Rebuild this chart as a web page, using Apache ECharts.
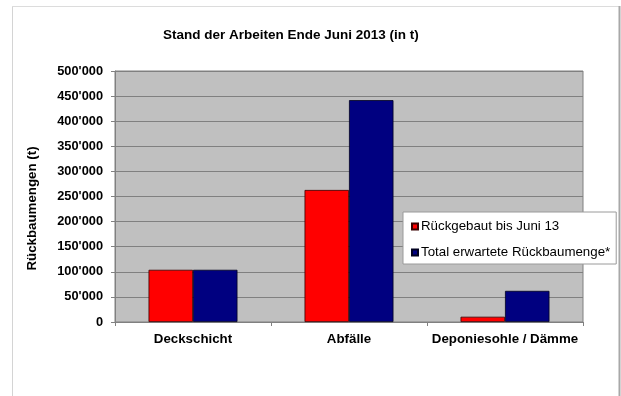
<!DOCTYPE html>
<html>
<head>
<meta charset="utf-8">
<script src="https://cdn.jsdelivr.net/npm/echarts@6/dist/echarts.min.js"></script>
<style>html,body{margin:0;padding:0;background:#fff;}#c{width:621px;height:396px;}</style>
</head>
<body>
<div id="c"></div>
<script>
const categories = ['Deckschicht', 'Abfälle', 'Deponiesohle / Dämme'];
const seriesNames = ['Rückgebaut bis Juni 13', 'Total erwartete Rückbaumenge*'];
const rueckgebaut = [104000, 263000, 10500];
const totalErwartet = [104000, 442000, 62000];
const yTicks = [0, 50000, 100000, 150000, 200000, 250000, 300000, 350000, 400000, 450000, 500000];

function fmt(v) {
  return String(v).replace(/\B(?=(\d{3})+(?!\d))/g, "'");
}

const chart = echarts.init(document.getElementById('c'));
const FONT = '"Liberation Sans", Arial, sans-serif';
chart.setOption({
  animation: false,
  textStyle: { fontFamily: FONT },
  title: {
    text: 'Stand der Arbeiten Ende Juni 2013 (in t)',
    left: 158, top: 23,
    textStyle: { fontSize: 13.5, fontWeight: 'bold', color: '#000', fontFamily: FONT }
  },
  graphic: [
    { type: 'line', shape: { x1: 12.5, y1: 6, x2: 12.5, y2: 396 }, style: { stroke: '#d4d4d4', lineWidth: 1 } },
    { type: 'line', shape: { x1: 12, y1: 6.5, x2: 620, y2: 6.5 }, style: { stroke: '#dcdcdc', lineWidth: 1 } },
    { type: 'line', shape: { x1: 619.5, y1: 6, x2: 619.5, y2: 396 }, style: { stroke: '#a8a8a8', lineWidth: 2 } }
  ],
  legend: {
    orient: 'vertical',
    left: 403, top: 212,
    backgroundColor: '#fff',
    borderColor: '#9a9a9a', borderWidth: 1,
    padding: [8, 6, 5, 8],
    itemGap: 13,
    itemWidth: 6, itemHeight: 6,
    icon: 'rect',
    textStyle: { fontSize: 13.3, color: '#000', fontFamily: FONT, padding: [0, 0, 0, -2] },
    data: seriesNames
  },
  grid: {
    left: 115, right: 38, top: 71, bottom: 74,
    show: true, backgroundColor: '#c0c0c0', borderColor: '#808080', borderWidth: 1
  },
  xAxis: {
    type: 'category',
    data: categories,
    axisLine: { show: true, lineStyle: { color: '#808080' } },
    axisTick: { show: true, length: 4, lineStyle: { color: '#808080' } },
    axisLabel: { interval: 0, fontSize: 13.3, fontWeight: 'bold', color: '#000', margin: 11, fontFamily: FONT }
  },
  yAxis: {
    type: 'value',
    min: yTicks[0], max: yTicks[yTicks.length - 1], interval: 50000,
    name: 'Rückbaumengen (t)',
    nameLocation: 'middle',
    nameGap: 76,
    nameTextStyle: { fontSize: 13.3, fontWeight: 'bold', color: '#000', fontFamily: FONT, padding: [0, 0, 0, -24] },
    axisLine: { show: true, lineStyle: { color: '#808080' } },
    axisTick: { show: true, length: 4, lineStyle: { color: '#808080' } },
    axisLabel: { fontSize: 12.8, fontWeight: 'bold', color: '#000', margin: 12, formatter: fmt, fontFamily: FONT },
    splitLine: { show: true, lineStyle: { color: '#808080', width: 1 } }
  },
  series: [
    {
      name: seriesNames[0], type: 'bar', data: rueckgebaut,
      barGap: '0%', barCategoryGap: '43%',
      itemStyle: { color: '#ff0000', borderColor: '#3a0000', borderWidth: 0.8 }
    },
    {
      name: seriesNames[1], type: 'bar', data: totalErwartet,
      barGap: '0%', barCategoryGap: '43%',
      itemStyle: { color: '#000080', borderColor: '#000020', borderWidth: 0.8 }
    }
  ]
});
</script>
</body>
</html>
